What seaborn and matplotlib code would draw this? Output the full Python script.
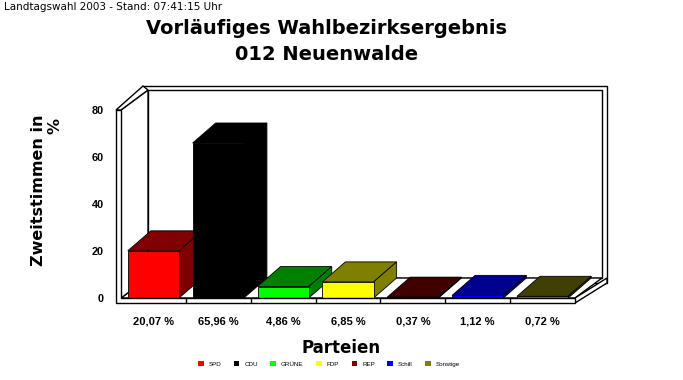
import matplotlib
matplotlib.use("Agg")
import matplotlib.pyplot as plt
from matplotlib.patches import Polygon, Patch
import seaborn as sns

parties = ["SPD", "CDU", "GRÜNE", "FDP", "REP", "Schill", "Sonstige"]
values = [20.07, 65.96, 4.86, 6.85, 0.37, 1.12, 0.72]
value_labels = ["20,07 %", "65,96 %", "4,86 %", "6,85 %", "0,37 %", "1,12 %", "0,72 %"]
front_colors = ["#ff0000", "#000000", "#00ff00", "#ffff00", "#800000", "#0000ff", "#808000"]
dark_colors = ["#800000", "#000000", "#008000", "#808000", "#400000", "#000090", "#404000"]
yticks = [0, 20, 40, 60, 80]

sns.set_style("white")
plt.rcParams["font.family"] = ["Liberation Sans", "DejaVu Sans"]
plt.rcParams["text.color"] = "black"
plt.rcParams["axes.labelcolor"] = "black"
plt.rcParams["xtick.color"] = "black"
plt.rcParams["ytick.color"] = "black"
big = ["DejaVu Sans"]

W, H = 683, 380
fig = plt.figure(figsize=(W / 100, H / 100), dpi=100)

ax_l, ax_r, ax_t, ax_b = 100, 620, 80, 310
ax = fig.add_axes([ax_l / W, 1 - ax_b / H, (ax_r - ax_l) / W, (ax_b - ax_t) / H])

px_cat = (575 - 121) / 7.0
px_unit = (298 - 110) / 80.0
ymax = 80

sns.barplot(x=parties, y=values, hue=parties, palette=front_colors, legend=False,
            width=0.79, edgecolor="black", linewidth=0.6, ax=ax, saturation=1)

n = len(parties)
x0f, x1f = -0.5, n - 0.5
dx, dy = 27 / px_cat, 20 / px_unit          # wall depth
bdx, bdy = 23 / px_cat, 20 / px_unit        # bar depth
tx, ty, tf = 5 / px_cat, 4 / px_unit, 5 / px_unit

ax.set_xlim(x0f - (121 - ax_l) / px_cat, x1f + (ax_r - 575) / px_cat)
ax.set_ylim(-(ax_b - 298) / px_unit, ymax + (110 - ax_t) / px_unit)

wk = dict(facecolor="white", edgecolor="black", linewidth=1.0, joinstyle="miter")
xb0, xb1 = x0f + dx - tx, x1f + dx + tx
ax.add_patch(Polygon([(xb0, dy - tf), (xb1, dy - tf), (xb1, ymax + dy + ty), (xb0, ymax + dy + ty)], zorder=1, **wk))
ax.add_patch(Polygon([(x0f + dx, dy), (x1f + dx, dy), (x1f + dx, ymax + dy), (x0f + dx, ymax + dy)], zorder=1.1, **wk))
ax.add_patch(Polygon([(x0f, 0), (x1f, 0), (x1f + dx, dy), (x0f + dx, dy)], zorder=1.2, **wk))
ax.add_patch(Polygon([(x1f, 0), (x1f, -tf), (xb1, dy - tf), (xb1, dy)], zorder=1.2, **wk))
ax.add_patch(Polygon([(x0f, 0), (x0f, ymax), (x0f + dx, ymax + dy), (x0f + dx, dy)], zorder=1.3, **wk))
ax.add_patch(Polygon([(x0f - tx, ymax), (x0f, ymax), (x0f + dx, ymax + dy), (xb0, ymax + dy + ty)], zorder=1.3, **wk))

bars = []
for c in ax.containers:
    bars.extend(list(c))
for i, p in enumerate(bars):
    x0 = p.get_x()
    x1 = x0 + p.get_width()
    h = p.get_height()
    z = 5 + i
    p.set_zorder(z + 0.5)
    ek = dict(facecolor=dark_colors[i], edgecolor="black", linewidth=0.6, zorder=z)
    ax.add_patch(Polygon([(x0, h), (x1, h), (x1 + bdx, h + bdy), (x0 + bdx, h + bdy)], **ek))
    ax.add_patch(Polygon([(x1, 0), (x1, h), (x1 + bdx, h + bdy), (x1 + bdx, bdy)], **ek))

ax.add_patch(Polygon([(x0f - tx, -tf), (x1f, -tf), (x1f, 0), (x0f, 0), (x0f, ymax), (x0f - tx, ymax)],
                     zorder=20, **wk))
ax.vlines([i + 0.5 for i in range(n - 1)], -tf, 0, colors="black", linewidth=1.0, zorder=21)

for s in ax.spines.values():
    s.set_visible(False)
ax.spines["left"].set_position(("data", x0f - tx))
ax.set_yticks(yticks)
ax.set_yticklabels([str(v) for v in yticks], fontsize=7.8, fontweight="bold")
ax.tick_params(axis="y", direction="in", length=3.6, width=1, color="black", pad=9, left=True)
ax.set_xticks(range(n))
ax.set_xticklabels(value_labels, fontsize=8, fontweight="bold")
ax.tick_params(axis="x", length=0, pad=5)
ax.set_xlabel("")
ax.set_ylabel("")
ax.grid(False)

fig.text(4 / W, 1 - 7 / H, "Landtagswahl 2003 - Stand: 07:41:15 Uhr", fontsize=7.5, family=big, ha="left", va="center")
fig.text(327 / W, 1 - 29 / H, "Vorläufiges Wahlbezirksergebnis", fontsize=14, fontweight="bold", family=big, ha="center", va="center")
fig.text(327 / W, 1 - 54 / H, "012 Neuenwalde", fontsize=14, fontweight="bold", family=big, ha="center", va="center")
fig.text(39 / W, 1 - 190 / H, "Zweitstimmen in", fontsize=11.5, fontweight="bold", family=big, rotation=90, ha="center", va="center")
fig.text(55 / W, 1 - 126 / H, "%", fontsize=11.5, fontweight="bold", family=big, rotation=90, ha="center", va="center")
fig.text(341 / W, 1 - 348 / H, "Parteien", fontsize=12, fontweight="bold", family=big, ha="center", va="center")

handles = [Patch(facecolor=c, edgecolor="none") for c in front_colors]
fig.legend(handles, parties, loc="center", bbox_to_anchor=(329 / W, 1 - 364 / H), ncol=n, frameon=False,
           fontsize=4.5, handlelength=0.9, handleheight=0.9, handletextpad=0.8, columnspacing=2.0,
           borderpad=0, borderaxespad=0)

fig.savefig("out.png", dpi=100)
